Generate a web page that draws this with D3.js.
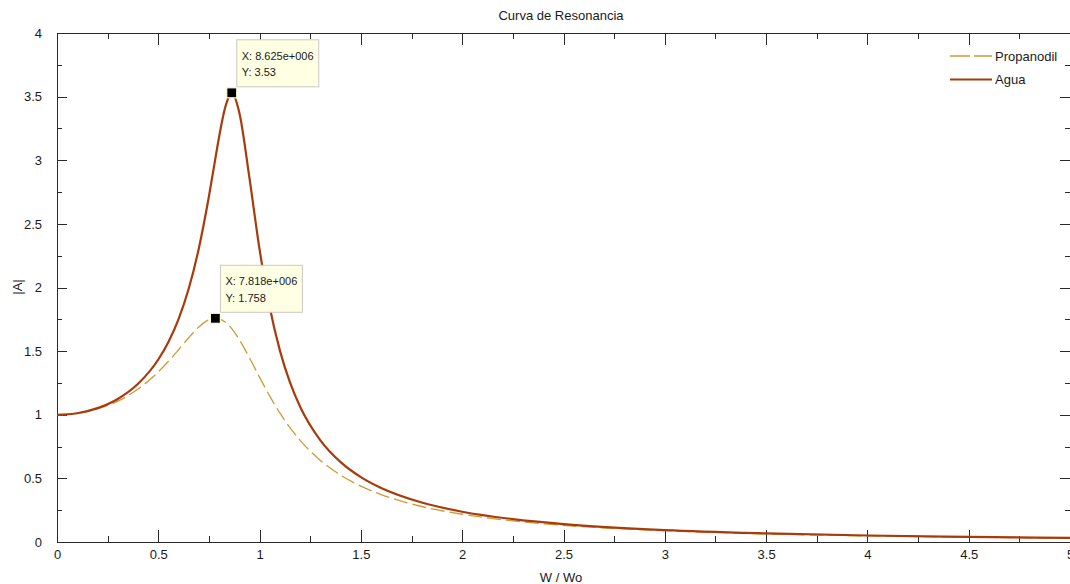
<!DOCTYPE html>
<html>
<head>
<meta charset="utf-8">
<script src="https://cdn.jsdelivr.net/npm/d3@7"></script>
<style>
  html, body { margin: 0; padding: 0; background: #fff; }
  svg { display: block; }
  text { font-family: "Liberation Sans", Arial, sans-serif; fill: #1a1a1a; }
</style>
</head>
<body>
<svg id="chart" width="1070" height="584"></svg>
<script>
// ---- data ----
const wRatio = [0, 0.1, 0.2, 0.3, 0.4, 0.5, 0.55, 0.6, 0.65, 0.7, 0.75, 0.7818, 0.8, 0.83, 0.85, 0.8625,
  0.9, 0.95, 1.0, 1.05, 1.1, 1.15, 1.2, 1.3, 1.4, 1.5, 1.6, 1.8, 2.0, 2.25, 2.5, 3, 3.5, 4, 4.5, 5];
const agua = [1.0, 1.012, 1.052, 1.124, 1.243, 1.434, 1.572, 1.752, 1.99, 2.307, 2.717, 3.015, 3.183, 3.414, 3.503, 3.53,
  3.373, 2.86, 2.298, 1.845, 1.506, 1.254, 1.063, 0.799, 0.628, 0.51, 0.424, 0.31, 0.238, 0.18, 0.141, 0.094, 0.068, 0.051, 0.04, 0.032];
const propanodil = [1.0, 1.011, 1.046, 1.107, 1.202, 1.337, 1.42, 1.511, 1.605, 1.69, 1.746, 1.758, 1.754, 1.729, 1.70, 1.677,
  1.59, 1.447, 1.294, 1.146, 1.014, 0.898, 0.799, 0.641, 0.526, 0.439, 0.373, 0.279, 0.218, 0.166, 0.131, 0.089, 0.064, 0.048, 0.038, 0.031];
const seriesNames = ["Propanodil", "Agua"];
const xTickValues = [0, 0.5, 1, 1.5, 2, 2.5, 3, 3.5, 4, 4.5, 5];
const xMinorValues = [0.25, 0.75, 1.25, 1.75, 2.25, 2.75, 3.25, 3.75, 4.25, 4.75];
const yTickValues = [0, 0.5, 1, 1.5, 2, 2.5, 3, 3.5, 4];
const yMinorValues = [0.25, 0.75, 1.25, 1.75, 2.25, 2.75, 3.25, 3.75];
const tipX = [0.8625, 0.7818];
const tipY = [3.53, 1.758];
const tipLines = [["X: 8.625e+006", "Y: 3.53"], ["X: 7.818e+006", "Y: 1.758"]];
const titleText = "Curva de Resonancia";
const xLabel = "W / Wo";
const yLabel = "|A|";

// ---- layout ----
const svg = d3.select("#chart");
const mLeft = 57, mRight = 1070, mTop = 33, mBottom = 542;
const x = d3.scaleLinear().domain([0, 5]).range([mLeft, mRight]);
const y = d3.scaleLinear().domain([0, 4]).range([mBottom, mTop]);
const axisColor = "#2a2a2a";
const fmt = d => String(d);

// box
svg.append("rect").attr("x", mLeft).attr("y", mTop).attr("width", mRight - mLeft).attr("height", mBottom - mTop)
  .attr("fill", "#fff").attr("stroke", axisColor).attr("stroke-width", 1).attr("shape-rendering", "crispEdges");

function styleAxis(g) {
  g.select(".domain").remove();
  g.selectAll(".tick line").attr("stroke", axisColor).attr("shape-rendering", "crispEdges");
  g.selectAll(".tick text").attr("font-size", "13px").attr("fill", "#1a1a1a")
    .attr("font-family", "'Liberation Sans', Arial, sans-serif");
}

// bottom axis with labels
svg.append("g").attr("transform", `translate(0,${mBottom})`)
  .call(d3.axisBottom(x).tickValues(xTickValues).tickFormat(fmt).tickSizeInner(-12).tickSizeOuter(0).tickPadding(8))
  .call(styleAxis)
  .call(g => g.selectAll(".tick text").attr("dy", "0.71em").attr("y", 8));
svg.append("g").attr("transform", `translate(0,${mBottom})`)
  .call(d3.axisBottom(x).tickValues(xMinorValues).tickFormat("").tickSizeInner(-6).tickSizeOuter(0)).call(styleAxis);
// top axis (no labels)
svg.append("g").attr("transform", `translate(0,${mTop})`)
  .call(d3.axisTop(x).tickValues(xTickValues).tickFormat("").tickSizeInner(-12).tickSizeOuter(0)).call(styleAxis);
svg.append("g").attr("transform", `translate(0,${mTop})`)
  .call(d3.axisTop(x).tickValues(xMinorValues).tickFormat("").tickSizeInner(-6).tickSizeOuter(0)).call(styleAxis);
// left axis with labels
svg.append("g").attr("transform", `translate(${mLeft},0)`)
  .call(d3.axisLeft(y).tickValues(yTickValues).tickFormat(fmt).tickSizeInner(-10).tickSizeOuter(0).tickPadding(15))
  .call(styleAxis);
svg.append("g").attr("transform", `translate(${mLeft},0)`)
  .call(d3.axisLeft(y).tickValues(yMinorValues).tickFormat("").tickSizeInner(-5).tickSizeOuter(0)).call(styleAxis);
// right axis (no labels)
svg.append("g").attr("transform", `translate(${mRight},0)`)
  .call(d3.axisRight(y).tickValues(yTickValues).tickFormat("").tickSizeInner(-10).tickSizeOuter(0)).call(styleAxis);
svg.append("g").attr("transform", `translate(${mRight},0)`)
  .call(d3.axisRight(y).tickValues(yMinorValues).tickFormat("").tickSizeInner(-5).tickSizeOuter(0)).call(styleAxis);

// curves
const line = d3.line().x(d => x(d[0])).y(d => y(d[1])).curve(d3.curveMonotoneX);
const propColor = "#cf9a35";
const aguaColor = "#a83a0c";
svg.append("path").datum(wRatio.map((w, i) => [w, propanodil[i]]))
  .attr("d", line).attr("fill", "none").attr("stroke", propColor).attr("stroke-width", 1.3)
  .attr("stroke-dasharray", "14,5");
svg.append("path").datum(wRatio.map((w, i) => [w, agua[i]]))
  .attr("d", line).attr("fill", "none").attr("stroke", aguaColor).attr("stroke-width", 2.2);

// data tips
tipX.forEach((tx, i) => {
  const px = x(tx), py = y(tipY[i]);
  const bx = px + 5, byTop = py - 53;
  svg.append("rect").attr("x", bx).attr("y", byTop).attr("width", 82).attr("height", 47)
    .attr("fill", "#ffffe3").attr("stroke", "#c9c9c0").attr("stroke-width", 1);
  tipLines[i].forEach((t, j) => {
    svg.append("text").attr("x", bx + 5).attr("y", byTop + 20 + j * 16.5)
      .attr("font-size", "11px").text(t);
  });
  svg.append("rect").attr("x", px - 5).attr("y", py - 5).attr("width", 10).attr("height", 10)
    .attr("fill", "#000").attr("stroke", "#fffbd0").attr("stroke-width", 1.2);
});

// legend
const legColors = [propColor, aguaColor];
const legDash = ["20,4", null];
const legWidth = [1.5, 2.2];
seriesNames.forEach((name, i) => {
  const ly = 56 + i * 23.5;
  const l = svg.append("line").attr("x1", 950).attr("x2", 992).attr("y1", ly).attr("y2", ly)
    .attr("stroke", legColors[i]).attr("stroke-width", legWidth[i]);
  if (legDash[i]) l.attr("stroke-dasharray", legDash[i]);
  svg.append("text").attr("x", 995).attr("y", ly + 4.5).attr("font-size", "13px").text(name);
});

// title & labels
svg.append("text").attr("x", 561).attr("y", 20).attr("text-anchor", "middle").attr("font-size", "13px").text(titleText);
svg.append("text").attr("x", 561).attr("y", 582).attr("text-anchor", "middle").attr("font-size", "13px").text(xLabel);
svg.append("text").attr("transform", "translate(22,287) rotate(-90)").attr("text-anchor", "middle")
  .attr("font-size", "13px").text(yLabel);
</script>
</body>
</html>
